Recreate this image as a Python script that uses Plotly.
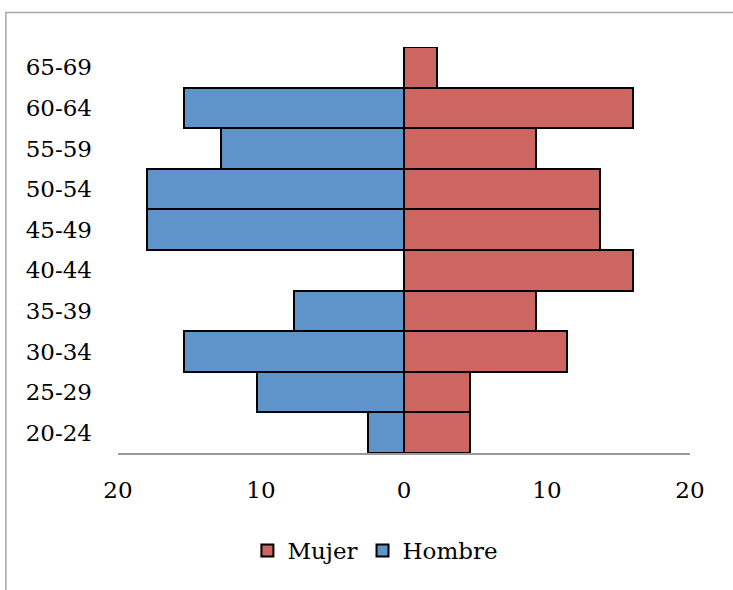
import plotly.graph_objects as go

# Age groups, bottom to top
grupos = ["20-24", "25-29", "30-34", "35-39", "40-44",
          "45-49", "50-54", "55-59", "60-64", "65-69"]

# Percentage of each sex per age group
mujer = [4.6, 4.6, 11.4, 9.2, 16.0, 13.7, 13.7, 9.2, 16.0, 2.3]
hombre = [2.5, 10.3, 15.4, 7.7, 0.0, 18.0, 18.0, 12.8, 15.4, 0.0]

tick_vals = [-20, -10, 0, 10, 20]
tick_text = ["20", "10", "0", "10", "20"]

FONT = "DejaVu Serif"
ROJO = "#CD6660"
AZUL = "#5E94C9"

fig = go.Figure()
fig.add_trace(go.Bar(
    y=grupos, x=mujer, orientation="h", name="Mujer",
    marker=dict(color=ROJO, line=dict(color="#000000", width=2)),
))
fig.add_trace(go.Bar(
    y=grupos, x=[-v for v in hombre], orientation="h", name="Hombre",
    marker=dict(color=AZUL, line=dict(color="#000000", width=2)),
))

fig.update_layout(
    width=733, height=590,
    margin=dict(l=118, r=43, t=47, b=137),
    paper_bgcolor="white", plot_bgcolor="white",
    barmode="relative", bargap=0,
    font=dict(family=FONT, size=23, color="#000000"),
    showlegend=True,
    legend=dict(
        orientation="h", x=0.45, xanchor="center", y=-0.24, yanchor="middle",
        traceorder="normal", font=dict(family=FONT, size=23),
        itemwidth=30, tracegroupgap=0,
    ),
    xaxis=dict(
        range=[-20, 20], tickvals=tick_vals, ticktext=tick_text,
        showgrid=False, zeroline=True, zerolinecolor="#8C8C8C", zerolinewidth=2,
        showline=True, linecolor="#9A9A9A", linewidth=2,
        ticks="", ticklabelstandoff=15, layer="above traces",
        fixedrange=True,
    ),
    yaxis=dict(
        categoryorder="array", categoryarray=grupos, range=[-0.5, 9.5],
        showgrid=False, zeroline=False, showline=False,
        ticks="", ticklabelstandoff=25, fixedrange=True,
    ),
    shapes=[dict(
        type="rect", xref="paper", yref="paper",
        x0=-0.196, x1=1.09, y0=-0.37, y1=1.085,
        line=dict(color="#A6A6A6", width=1.5), fillcolor="rgba(0,0,0,0)",
        layer="below",
    )],
)

fig.write_html("out.html")
